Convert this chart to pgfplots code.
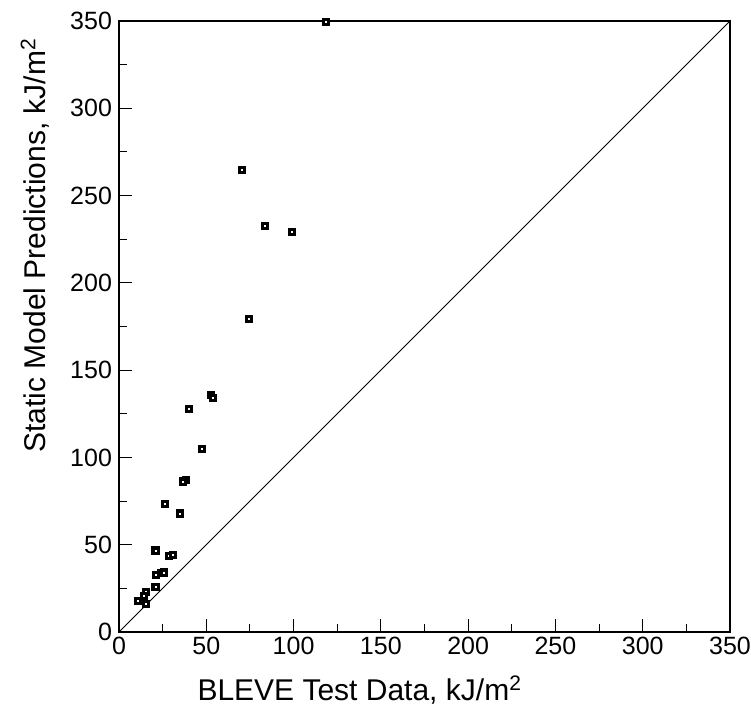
\documentclass[border=0pt]{standalone}
\usepackage{fontspec}
\setmainfont{Liberation Sans}
\usepackage{pgfplots}
\pgfplotsset{compat=1.18}

\begin{document}
\begin{tikzpicture}
\path[use as bounding box] (-59.5pt,-42.5pt) rectangle (316pt,316pt);
\begin{axis}[
scale only axis,
width=305.5pt,height=305.5pt,
xmin=0,xmax=350,ymin=0,ymax=350,
xtick={0,50,...,350},ytick={0,50,...,350},
minor tick num=1,
tick pos=left,
tick align=inside,
major tick length=6.5pt,
minor tick length=4pt,
every tick/.style={black,line width=0.5pt},
axis line style={line width=1.2pt},
/pgf/number format/assume math mode=true,
ticklabel style={font=\fontsize{12.5}{14}\selectfont},
xticklabel style={yshift=1pt},
xlabel={BLEVE Test Data, kJ/m\textsuperscript{2}},
ylabel={Static Model Predictions, kJ/m\textsuperscript{2}},
label style={font=\fontsize{15}{18}\selectfont},
xlabel style={at={(axis description cs:0.394,-0.095)},anchor=center},
ylabel style={at={(axis description cs:-0.137,0.633)},anchor=center},
clip=false
]
\addplot[black,line width=0.5pt] coordinates {(0,0) (350,350)};
\addplot[only marks,mark=square*,mark size=1.3pt,
  mark options={draw=black,fill=white,line width=1.6pt}] coordinates {
(118.6,349.4)
(70.5,264.7)
(83.6,232.6)
(99.1,229.1)
(74.5,179.3)
(52.7,135.8)
(53.8,134.0)
(40.1,127.7)
(47.5,104.8)
(38.4,87.1)
(36.5,86.1)
(26.5,73.2)
(34.9,67.8)
(21.0,46.6)
(28.5,43.7)
(30.9,44.1)
(21.2,32.7)
(24.1,33.8)
(25.8,34.0)
(21.0,25.9)
(15.5,22.9)
(14.3,20.6)
(10.9,17.8)
(15.3,16.0)
};
\end{axis}
\end{tikzpicture}
\end{document}
